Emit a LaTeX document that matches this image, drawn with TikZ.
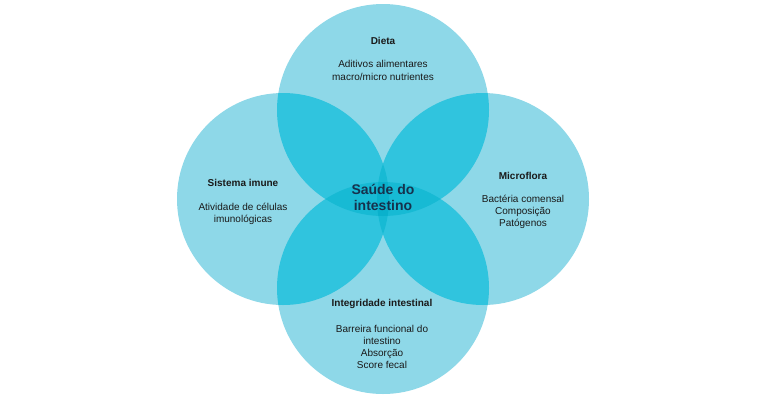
\documentclass[tikz,border=0pt]{standalone}
\usepackage{fontspec}
\setmainfont{Liberation Sans}
\definecolor{cone}{HTML}{8ED8E8}
\definecolor{ctwo}{HTML}{30C4DE}
\definecolor{cthree}{HTML}{17BAD4}
\definecolor{cfour}{HTML}{0AB1CC}
\definecolor{txt}{HTML}{1A1A1A}
\definecolor{navy}{HTML}{16324D}
\begin{document}
\begin{tikzpicture}[x=1pt,y=-1pt,
  title/.style={font=\fontsize{10}{12}\selectfont\bfseries, text=txt, align=center},
  body/.style={font=\fontsize{10}{12.2}\selectfont, text=txt, align=center},
  centre/.style={font=\fontsize{14}{16.5}\selectfont\bfseries, text=navy, align=center}]
\useasboundingbox[fill=white] (0,0) rectangle (770,400);
\def\R{106}
\coordinate (T) at (383,110);
\coordinate (B) at (383,288);
\coordinate (L) at (283,199);
\coordinate (Rt) at (483,199);
% single coverage
\foreach \c in {T,B,L,Rt} \fill[cone] (\c) circle (\R);
% double coverage
\foreach \a/\b in {T/B,T/L,T/Rt,B/L,B/Rt,L/Rt}{
  \begin{scope}\clip (\a) circle (\R); \fill[ctwo] (\b) circle (\R);\end{scope}}
% triple coverage
\foreach \a/\b/\c in {T/B/L,T/B/Rt,T/L/Rt,B/L/Rt}{
  \begin{scope}\clip (\a) circle (\R); \clip (\b) circle (\R); \fill[cthree] (\c) circle (\R);\end{scope}}
% quadruple coverage
\begin{scope}\clip (T) circle (\R); \clip (B) circle (\R); \clip (L) circle (\R); \fill[cfour] (Rt) circle (\R);\end{scope}
% texts
\node[title] (dt) at (383,41) {Dieta};
\node[body] (db) at (383,70.5) {Aditivos alimentares\\macro/micro nutrientes};
\node[title] (st) at (243,183) {Sistema imune};
\node[body] (sb) at (243,214) {Atividade de células\\imunológicas};
\node[title] (mt) at (523,176) {Microflora};
\node[body] (mb) at (523,212) {Bactéria comensal\\Composição\\Patógenos};
\node[centre] (ct) at (383,197.5) {Saúde do\\intestino};
\node[title] (it) at (382,304) {Integridade intestinal};
\node[body] (ib) at (382,347) {Barreira funcional do\\intestino\\Absorção\\Score fecal};
\end{tikzpicture}
\end{document}
